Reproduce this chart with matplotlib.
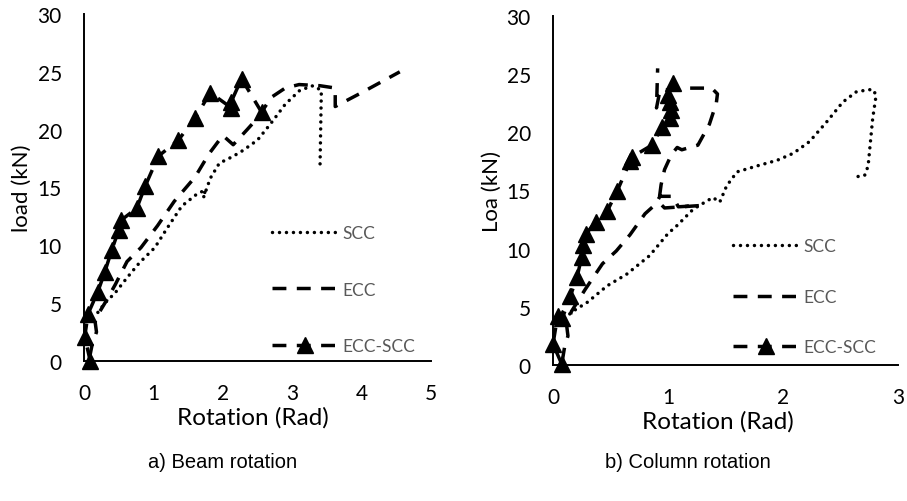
import matplotlib
matplotlib.use("Agg")
import matplotlib.pyplot as plt

# a) beam rotation
scc_b_x = [0.20, 0.30, 0.45, 0.62, 0.80, 1.02, 1.20, 1.41, 1.62, 1.75, 1.72, 1.82, 1.95, 2.15, 2.29, 2.50, 2.70, 2.90, 3.11, 3.30, 3.42, 3.40]
scc_b_y = [4.2, 5.0, 5.9, 7.2, 8.5, 9.8, 11.5, 13.4, 14.4, 14.8, 14.1, 15.8, 17.1, 17.7, 18.2, 19.1, 20.6, 22.2, 23.4, 23.8, 23.4, 16.5]

ecc_b_x = [0.08, 0.12, 0.18, 0.16, 0.22, 0.32, 0.45, 0.62, 0.82, 1.06, 1.30, 1.60, 1.80, 2.00, 2.15, 2.35, 2.50, 2.70, 2.90, 3.10, 3.40, 3.62, 3.62, 4.00, 4.55]
ecc_b_y = [0.3, 1.5, 2.5, 3.4, 4.2, 5.2, 6.6, 8.6, 9.8, 11.7, 13.8, 15.9, 17.9, 19.5, 18.7, 20.0, 21.0, 22.8, 23.6, 23.9, 23.8, 23.6, 22.0, 23.2, 25.0]

es_b_x = [0.09, 0.01, 0.06, 0.20, 0.30, 0.40, 0.50, 0.54, 0.76, 0.88, 1.07, 1.36, 1.60, 1.82, 2.12, 2.12, 2.27, 2.56]
es_b_y = [0.0, 2.1, 4.1, 6.0, 7.7, 9.6, 11.3, 12.2, 13.2, 15.1, 17.7, 19.1, 21.0, 23.2, 21.9, 22.4, 24.4, 21.5]

# b) column rotation
scc_c_x = [0.10, 0.17, 0.30, 0.47, 0.64, 0.84, 1.00, 1.08, 1.22, 1.39, 1.45, 1.51, 1.60, 1.77, 1.95, 2.09, 2.23, 2.38, 2.52, 2.64, 2.78, 2.81, 2.78, 2.74, 2.71, 2.65]
scc_c_y = [4.0, 4.6, 5.4, 6.8, 7.8, 9.4, 11.3, 12.0, 13.4, 14.4, 14.0, 15.4, 16.6, 17.1, 17.6, 18.2, 19.2, 20.9, 22.6, 23.5, 23.7, 23.2, 21.2, 17.1, 16.3, 16.2]

ecc_c_x = [0.08, 0.10, 0.13, 0.12, 0.16, 0.28, 0.43, 0.55, 0.67, 0.80, 0.89, 0.93, 1.04, 1.09, 1.27, 0.97, 0.92, 0.94, 0.97, 1.03, 1.08, 1.12, 1.26, 1.36, 1.42, 1.43, 1.38, 1.15, 0.93, 0.90, 0.91]
ecc_c_y = [0.3, 1.5, 2.5, 3.3, 4.6, 6.5, 8.7, 9.8, 11.2, 13.0, 13.8, 14.5, 14.5, 13.6, 13.7, 13.5, 14.0, 15.5, 16.8, 18.1, 18.7, 18.5, 18.9, 20.7, 22.5, 23.3, 23.8, 23.8, 23.6, 22.1, 25.5]

es_c_x = [0.075, 0.0, 0.04, 0.08, 0.15, 0.21, 0.25, 0.26, 0.29, 0.37, 0.47, 0.56, 0.67, 0.69, 0.86, 0.95, 1.02, 1.03, 1.02, 1.00, 1.04]
es_c_y = [0.1, 1.8, 4.2, 4.0, 5.9, 7.6, 9.3, 10.3, 11.3, 12.3, 13.2, 15.0, 17.5, 17.9, 18.9, 20.5, 21.2, 21.9, 22.6, 23.2, 24.2]

labels = ["SCC", "ECC", "ECC-SCC"]
tick_font = "Lato"

fig = plt.figure(figsize=(9.07, 5.02), dpi=100)
ax1 = fig.add_axes([84 / 907, 1 - 362 / 502, 347 / 907, 347 / 502])
ax2 = fig.add_axes([553 / 907, 1 - 366 / 502, 345 / 907, 349 / 502])


def draw(ax, sx, sy, ex, ey, mx, my, xmax, ylabel, xlab_x, leg_x, leg_y, spacing):
    l1, = ax.plot(sx, sy, color="black", lw=2.5, linestyle=(0, (0.01, 2.0)),
                  dash_capstyle="round", label=labels[0], clip_on=False)
    l2, = ax.plot(ex, ey, color="black", lw=2.5, linestyle=(0, (4, 3)), label=labels[1], clip_on=False)
    l3, = ax.plot(mx, my, color="black", lw=2.5, linestyle=(0, (4, 3)), marker="^",
                  markersize=11, label=labels[2], clip_on=False)
    ax.set_xlim(0, xmax)
    ax.set_ylim(0, 30)
    ax.set_xticks(range(0, xmax + 1))
    ax.set_yticks(range(0, 31, 5))
    for s in ["top", "right"]:
        ax.spines[s].set_visible(False)
    for s in ["left", "bottom"]:
        ax.spines[s].set_linewidth(1.4)
    ax.tick_params(length=0, labelsize=15, pad=16)
    for t in ax.get_xticklabels() + ax.get_yticklabels():
        t.set_fontfamily(tick_font)
    ax.set_ylabel(ylabel, fontsize=16, family=tick_font)
    ax.yaxis.set_label_coords(-0.178, 0.5)
    ax.set_xlabel("Rotation (Rad)", fontsize=17.5, family=tick_font)
    ax.xaxis.set_label_coords(xlab_x, -0.16)
    ax.xaxis.label.set_va("center")
    ax.yaxis.label.set_va("center")
    leg = ax.legend(handles=[l1, l2, l3], loc="center left", bbox_to_anchor=(leg_x, leg_y),
                    frameon=False, borderaxespad=0, borderpad=0, handlelength=3.8,
                    handletextpad=0.25, labelspacing=spacing, numpoints=1,
                    prop={"family": tick_font, "size": 12.5})
    for t in leg.get_texts():
        t.set_color("#595959")


draw(ax1, scc_b_x, scc_b_y, ecc_b_x, ecc_b_y, es_b_x, es_b_y, 5, "load (kN)", 0.486, 0.542, 0.206, 2.35)
draw(ax2, scc_c_x, scc_c_y, ecc_c_x, ecc_c_y, es_c_x, es_c_y, 3, "Loa (kN)", 0.478, 0.522, 0.196, 2.0)

fig.text(223 / 907, 1 - 463 / 502, "a) Beam rotation", ha="center", va="center",
         fontsize=14.5, family="Liberation Sans")
fig.text(688 / 907, 1 - 463 / 502, "b) Column rotation", ha="center", va="center",
         fontsize=14.5, family="Liberation Sans")

fig.savefig("out.png", dpi=100)
